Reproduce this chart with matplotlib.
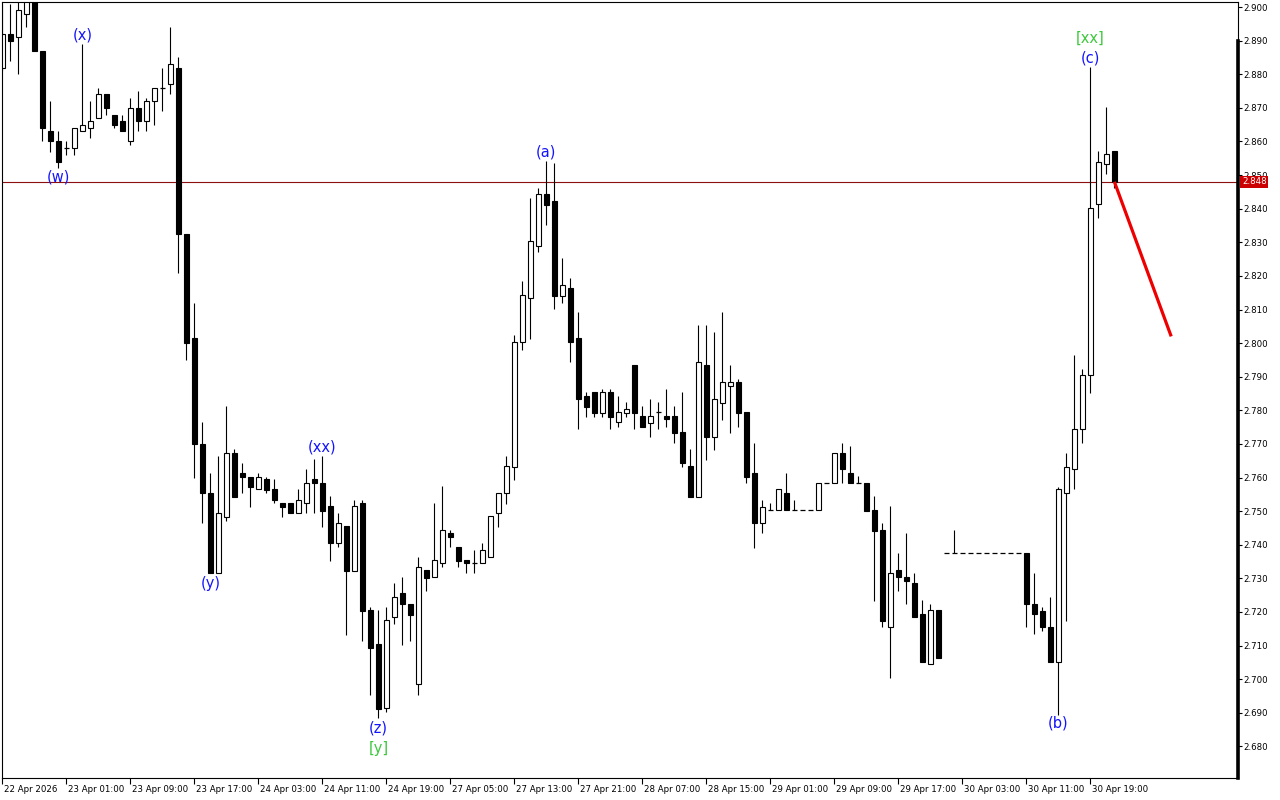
import matplotlib
matplotlib.use("Agg")
import matplotlib.pyplot as plt
import matplotlib.transforms as mtransforms
import numpy as np

# H1 candles, bar index 0 = 22 Apr 17:00
opens = [
    2.882, 2.892, 2.891, 2.898, 2.902, 2.887, 2.863, 2.860, 2.858, 2.858,
    2.863, 2.864, 2.867, 2.874, 2.868, 2.866, 2.860, 2.870, 2.866, 2.872,
    2.876, 2.877, 2.882, 2.8325, 2.8015, 2.770, 2.7554, 2.7316, 2.7482, 2.7673,
    2.7613, 2.7601, 2.7566, 2.7595, 2.7566, 2.7524, 2.7524, 2.7494, 2.7524, 2.7595,
    2.7583, 2.7515, 2.7405, 2.7455, 2.7322, 2.7524, 2.7205, 2.7104, 2.6914, 2.7185,
    2.7256, 2.7223, 2.6985, 2.7325, 2.7304, 2.7345, 2.7435, 2.7393, 2.7354, 2.7345,
    2.7345, 2.7363, 2.7494, 2.7554, 2.7631, 2.8003, 2.8134, 2.8289, 2.8443, 2.8423,
    2.8140, 2.8164, 2.8015, 2.7842, 2.7854, 2.7792, 2.7854, 2.7765, 2.7792, 2.7935,
    2.7783, 2.7762, 2.7795, 2.7783, 2.7783, 2.7735, 2.7634, 2.7542, 2.7935, 2.7720,
    2.7822, 2.7872, 2.7884, 2.7795, 2.7613, 2.7464, 2.7503, 2.7503, 2.7554, 2.7503,
    2.7503, 2.7503, 2.7503, 2.7583, 2.7583, 2.7673, 2.7613, 2.7583, 2.7583, 2.7503,
    2.7444, 2.7155, 2.7325, 2.7304, 2.7286, 2.7194, 2.7045, 2.7205, 2.7375, 2.7375,
    2.7375, 2.7375, 2.7375, 2.7375, 2.7375, 2.7375, 2.7375, 2.7375,
    2.7375, 2.7223, 2.7202, 2.7155, 2.7051, 2.7554, 2.7625, 2.7744, 2.7905, 2.8414,
    2.8533, 2.8571,
]
highs = [
    2.901, 2.901, 2.902, 2.904, 2.904, 2.887, 2.872, 2.863, 2.860, 2.864,
    2.889, 2.872, 2.876, 2.874, 2.868, 2.868, 2.873, 2.875, 2.873, 2.876,
    2.882, 2.894, 2.885, 2.8325, 2.812, 2.7765, 2.7613, 2.7664, 2.7813, 2.7685,
    2.7643, 2.7601, 2.7613, 2.7601, 2.7595, 2.7524, 2.7524, 2.7566, 2.7625, 2.7655,
    2.7664, 2.7545, 2.7494, 2.7455, 2.7533, 2.7533, 2.7214, 2.7205, 2.7214, 2.7286,
    2.7304, 2.7223, 2.7363, 2.7325, 2.7524, 2.7575, 2.7444, 2.7393, 2.7354, 2.7384,
    2.7405, 2.7485, 2.7554, 2.7664, 2.8024, 2.8184, 2.8431, 2.8461, 2.8542, 2.8536,
    2.8253, 2.8193, 2.8092, 2.7854, 2.7854, 2.7863, 2.7863, 2.7842, 2.7824, 2.7935,
    2.7813, 2.7833, 2.7824, 2.7863, 2.7813, 2.7854, 2.7685, 2.8054, 2.8054, 2.8033,
    2.8092, 2.7935, 2.7893, 2.7795, 2.7702, 2.7533, 2.7524, 2.7566, 2.7613, 2.7533,
    2.7503, 2.7503, 2.7583, 2.7583, 2.7673, 2.7702, 2.7694, 2.7604, 2.7583, 2.7545,
    2.7464, 2.7515, 2.7375, 2.7435, 2.7316, 2.7235, 2.7223, 2.7205, 2.7375, 2.7444,
    2.7375, 2.7375, 2.7375, 2.7375, 2.7375, 2.7375, 2.7375, 2.7375,
    2.7375, 2.7316, 2.7214, 2.7244, 2.7572, 2.7673, 2.7964, 2.7923, 2.8821, 2.8571,
    2.8702, 2.8571,
]
lows = [
    2.881, 2.884, 2.880, 2.894, 2.887, 2.860, 2.857, 2.852, 2.856, 2.856,
    2.863, 2.861, 2.867, 2.868, 2.864, 2.863, 2.859, 2.863, 2.863, 2.865,
    2.869, 2.874, 2.821, 2.795, 2.760, 2.7464, 2.7316, 2.7316, 2.7470, 2.7542,
    2.7554, 2.7512, 2.7566, 2.7554, 2.7524, 2.7482, 2.7494, 2.7494, 2.7494, 2.7494,
    2.7452, 2.7351, 2.7393, 2.7131, 2.7322, 2.7113, 2.6953, 2.6884, 2.6902, 2.7164,
    2.7101, 2.7113, 2.6953, 2.7262, 2.7304, 2.7333, 2.7393, 2.7333, 2.7316, 2.7316,
    2.7345, 2.7363, 2.7452, 2.7521, 2.7592, 2.7979, 2.8012, 2.8271, 2.8351, 2.8101,
    2.8119, 2.7943, 2.7744, 2.7780, 2.7780, 2.7780, 2.7744, 2.7750, 2.7780, 2.7744,
    2.7750, 2.7720, 2.7744, 2.7750, 2.7702, 2.7631, 2.7542, 2.7542, 2.7652, 2.7682,
    2.7771, 2.7732, 2.7750, 2.7583, 2.7390, 2.7435, 2.7503, 2.7503, 2.7503, 2.7503,
    2.7503, 2.7503, 2.7503, 2.7583, 2.7583, 2.7583, 2.7583, 2.7583, 2.7500, 2.7232,
    2.7155, 2.7003, 2.7262, 2.7223, 2.7185, 2.7051, 2.7045, 2.7063, 2.7375, 2.7375,
    2.7375, 2.7375, 2.7375, 2.7375, 2.7375, 2.7375, 2.7375, 2.7375,
    2.7155, 2.7134, 2.7143, 2.7051, 2.6893, 2.7173, 2.7566, 2.7702, 2.7851, 2.8372,
    2.8503, 2.8461,
]
closes = [
    2.892, 2.890, 2.899, 2.902, 2.887, 2.864, 2.860, 2.854, 2.858, 2.864,
    2.865, 2.866, 2.874, 2.870, 2.865, 2.863, 2.870, 2.866, 2.872, 2.876,
    2.876, 2.883, 2.8325, 2.800, 2.770, 2.7554, 2.7316, 2.7494, 2.7673, 2.7542,
    2.7601, 2.7572, 2.7601, 2.7563, 2.7533, 2.7512, 2.7494, 2.7533, 2.7583, 2.7583,
    2.7500, 2.7405, 2.7464, 2.7322, 2.7515, 2.7202, 2.7092, 2.6911, 2.7176, 2.7244,
    2.7223, 2.7191, 2.7333, 2.7301, 2.7354, 2.7444, 2.7423, 2.7351, 2.7345, 2.7345,
    2.7384, 2.7485, 2.7554, 2.7634, 2.8003, 2.8143, 2.8304, 2.8443, 2.8411, 2.8140,
    2.8173, 2.8003, 2.7833, 2.7810, 2.7792, 2.7854, 2.7780, 2.7795, 2.7804, 2.7792,
    2.7750, 2.7783, 2.7795, 2.7774, 2.7732, 2.7643, 2.7542, 2.7943, 2.7720, 2.7833,
    2.7884, 2.7884, 2.7792, 2.7601, 2.7464, 2.7512, 2.7503, 2.7566, 2.7503, 2.7503,
    2.7503, 2.7503, 2.7583, 2.7583, 2.7673, 2.7625, 2.7583, 2.7583, 2.7500, 2.7441,
    2.7173, 2.7316, 2.7304, 2.7292, 2.7185, 2.7051, 2.7205, 2.7063, 2.7375, 2.7375,
    2.7375, 2.7375, 2.7375, 2.7375, 2.7375, 2.7375, 2.7375, 2.7375,
    2.7223, 2.7194, 2.7155, 2.7051, 2.7566, 2.7631, 2.7744, 2.7905, 2.8402, 2.8539,
    2.8563, 2.848,
]

# one time label every 8 bars
time_labels = [
    "22 Apr 2026", "23 Apr 01:00", "23 Apr 09:00", "23 Apr 17:00", "24 Apr 03:00",
    "24 Apr 11:00", "24 Apr 19:00", "27 Apr 05:00", "27 Apr 13:00", "27 Apr 21:00",
    "28 Apr 07:00", "28 Apr 15:00", "29 Apr 01:00", "29 Apr 09:00", "29 Apr 17:00",
    "30 Apr 03:00", "30 Apr 11:00", "30 Apr 19:00",
]
price_ticks = [round(2.68 + 0.01 * k, 3) for k in range(23)]

last_price = 2.848
forecast_bar = [139, 146.1]
forecast_price = [2.848, 2.802]

wave_text = ["(w)", "(x)", "(y)", "(xx)", "(z)", "(a)", "(b)", "(c)"]
wave_bar = [7, 10, 26, 40, 47, 68, 132, 136]
wave_price = [2.8494, 2.8917, 2.7286, 2.7690, 2.6854, 2.8569, 2.6869, 2.8848]

major_text = ["[y]", "[xx]"]
major_bar = [47, 136]
major_price = [2.6795, 2.8908]

fig = plt.figure(figsize=(12.8, 8), dpi=100)
ax = fig.add_axes([2 / 1280, 22 / 800, 1236 / 1280, 776 / 800])

x = np.arange(len(opens))
o = np.array(opens)
h = np.array(highs)
l = np.array(lows)
c = np.array(closes)
w = 0.62

# wicks
ax.vlines(x, l, h, color="black", lw=0.8, zorder=1)

bull = c > o
bear = c < o
flat = c == o
ax.bar(x[bull], (c - o)[bull], bottom=o[bull], width=w, facecolor="white",
       edgecolor="black", linewidth=0.8, zorder=2)
ax.bar(x[bear], (o - c)[bear], bottom=c[bear], width=w, facecolor="black",
       edgecolor="black", linewidth=0.8, zorder=2)
ax.hlines(o[flat], x[flat] - w / 2, x[flat] + w / 2, color="black", lw=0.9, zorder=2)

# current price line
ax.axhline(last_price, color="#8c1010", lw=0.8, zorder=0)

# forecast
ax.plot(forecast_bar, forecast_price, color="#ee0000", lw=2.3, solid_capstyle="butt", zorder=3)

for t, bx, py in zip(wave_text, wave_bar, wave_price):
    ax.text(bx, py, t, color="#1414ff", fontsize=10.5, ha="center", va="center",
            family="DejaVu Sans")
for t, bx, py in zip(major_text, major_bar, major_price):
    ax.text(bx, py, t, color="#3cc83c", fontsize=10.5, ha="center", va="center",
            family="DejaVu Sans")

ax.set_xlim(-0.05, -0.05 + 1236 / 8)
ax.set_ylim(2.6706, 2.9015)

for s in ax.spines.values():
    s.set_linewidth(0.8)
    s.set_color("black")

ax.yaxis.tick_right()
ax.set_yticks(price_ticks)
ax.set_yticklabels([f"{p:.3f}" for p in price_ticks])
ax.tick_params(axis="y", direction="out", length=3, width=0.8, pad=1,
               labelsize=6.2, colors="black")

ax.set_xticks(np.arange(len(time_labels)) * 8)
ax.set_xticklabels(time_labels)
ax.tick_params(axis="x", direction="out", length=4, width=0.8, pad=1,
               labelsize=6.2, colors="black")
offset = mtransforms.ScaledTranslation(2 / 100, 0, fig.dpi_scale_trans)
for lab in ax.get_xticklabels():
    lab.set_horizontalalignment("left")
    lab.set_transform(lab.get_transform() + offset)

# thick marker on the price scale
xr = ax.get_xlim()[1]
ax.plot([xr, xr], [ax.get_ylim()[0], 2.890], color="black", lw=2.6, clip_on=False, zorder=5)

ax.annotate(f"{last_price:.3f}", xy=(1.0, last_price), xycoords=("axes fraction", "data"),
            xytext=(4, 0), textcoords="offset pixels", ha="left", va="center",
            color="white", fontsize=6.2, zorder=6,
            bbox=dict(boxstyle="square,pad=0.18", fc="#cc0000", ec="none"))

fig.savefig("out.png", dpi=100, facecolor="white")
